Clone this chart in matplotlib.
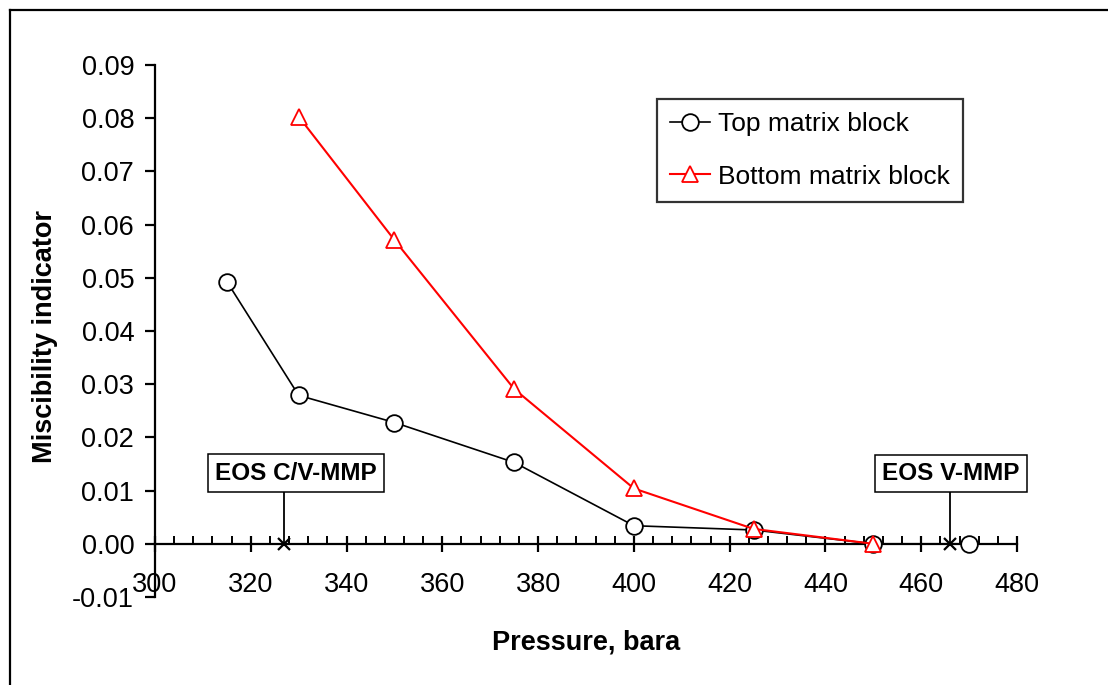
import matplotlib.pyplot as plt
from matplotlib.lines import Line2D
from matplotlib.ticker import MultipleLocator, FormatStrFormatter

plt.rcParams['font.family'] = ['Liberation Sans', 'DejaVu Sans']

# data
top_p = [315, 330, 350, 375, 400, 425, 450, 470]
top_mi = [0.0493, 0.0279, 0.0228, 0.0153, 0.0034, 0.0026, 0.0, 0.0]
bot_p = [330, 350, 375, 400, 425, 450]
bot_mi = [0.0803, 0.0571, 0.0291, 0.0104, 0.0028, 0.0]

mmp_labels = ['EOS C/V-MMP', 'EOS V-MMP']
mmp_p = [327, 466]
mmp_mi = [0.0, 0.0]

fig = plt.figure(figsize=(11.08, 6.85), dpi=100)
ax = fig.add_axes([155 / 1108, 1 - 597 / 685, 862 / 1108, 532 / 685])

ax.plot(top_p, top_mi, color='black', lw=1.2, marker='o', ms=12,
        mfc='white', mec='black', mew=1.3, label='Top matrix block', zorder=3)
ax.plot(bot_p, bot_mi, color='red', lw=1.5, marker='^', ms=11.5,
        mfc='white', mec='red', mew=1.3, label='Bottom matrix block', zorder=4)
ax.plot(mmp_p, mmp_mi, ls='none', marker='x', ms=8, mec='black', mew=1.6, zorder=5)

# boxed labels with leader lines
box_xy = [(329.4, 0.0133), (466.2, 0.0132)]
for lab, px, py, (tx, ty) in zip(mmp_labels, mmp_p, mmp_mi, box_xy):
    ax.text(tx, ty, lab, ha='center', va='center', fontsize=17.5,
            fontweight='bold', zorder=6,
            bbox=dict(boxstyle='square,pad=0.3', fc='white', ec='black', lw=1.1))
    ax.plot([px, px], [py, ty - 0.003], color='black', lw=1.3, zorder=2)

ax.set_xlim(300, 480)
ax.set_ylim(-0.01, 0.09)
ax.xaxis.set_major_locator(MultipleLocator(20))
ax.xaxis.set_minor_locator(MultipleLocator(4))
ax.yaxis.set_major_locator(MultipleLocator(0.01))
ax.yaxis.set_major_formatter(FormatStrFormatter('%.2f'))

for s in ['top', 'right']:
    ax.spines[s].set_visible(False)
ax.spines['bottom'].set_position(('data', 0))
ax.spines['left'].set_linewidth(1.6)
ax.spines['bottom'].set_linewidth(1.6)

ax.tick_params(axis='y', which='major', direction='out', length=7, width=1.6,
               labelsize=19.5, pad=8)
ax.tick_params(axis='x', which='major', direction='inout', length=12, width=1.6,
               labelsize=19.5, pad=14)
ax.tick_params(axis='x', which='minor', direction='in', length=6, width=1.4)

ax.set_xlabel('Pressure, bara', fontsize=19.5, fontweight='bold')
ax.xaxis.set_label_coords(0.5, -0.086)
ax.xaxis.label.set_va('center')
ax.set_ylabel('Miscibility indicator', fontsize=19.5, fontweight='bold')
ax.yaxis.set_label_coords(-97 / 862, 0.49)

leg = ax.legend(loc='upper left', bbox_to_anchor=(657 / 1108, 1 - 99 / 685),
                bbox_transform=fig.transFigure, fontsize=19, frameon=True,
                fancybox=False, edgecolor='black', handlelength=1.5,
                handletextpad=0.3, labelspacing=1.08, borderpad=0.5,
                borderaxespad=0)
leg.get_frame().set_linewidth(1.6)

# outer frame (left and top edges visible)
fig.add_artist(Line2D([10 / 1108, 10 / 1108], [0, 1 - 10 / 685], color='black', lw=1.6))
fig.add_artist(Line2D([10 / 1108, 1], [1 - 10 / 685, 1 - 10 / 685], color='black', lw=1.6))

fig.savefig('out.png', dpi=100)
